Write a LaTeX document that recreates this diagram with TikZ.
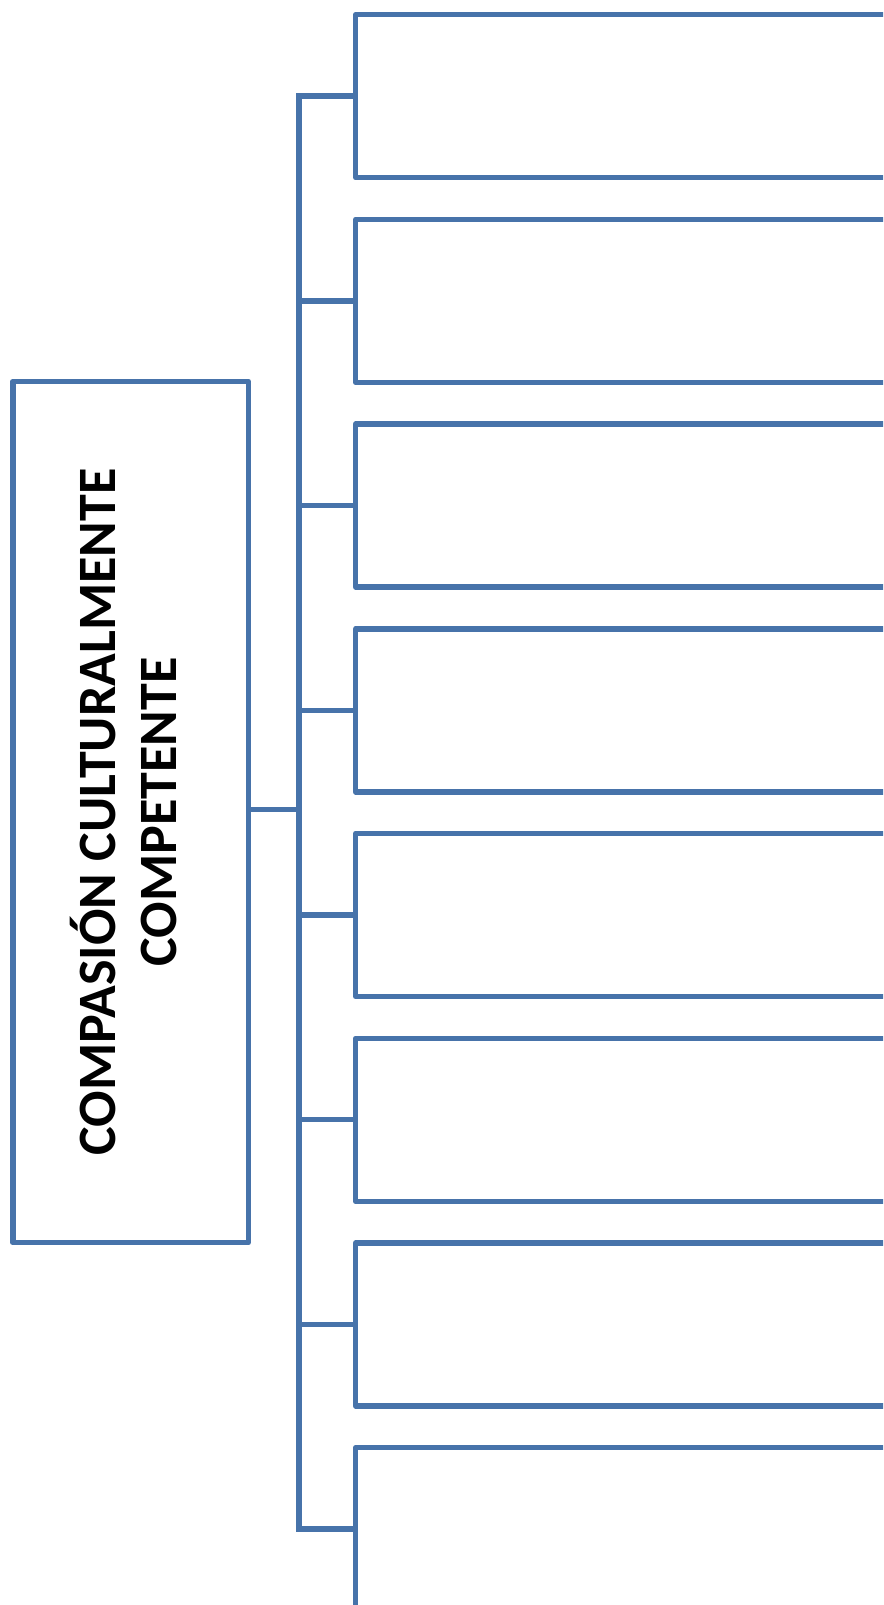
\documentclass[tikz,border=0pt]{standalone}
\usepackage{fontspec}
\setmainfont{Carlito}
\definecolor{edge}{RGB}{71,115,170}
\tikzset{
  frame/.style={draw=edge, line width=5.4pt, line join=round, fill=white},
  link/.style={draw=edge, line width=5.4pt, line join=miter}
}
\begin{document}
\begin{tikzpicture}[x=1pt,y=-1pt]
\useasboundingbox (0,0) rectangle (883,1605);
\clip (0,0) rectangle (883,1605);
% main box
\node[frame, minimum width=235.4pt, minimum height=861.4pt, inner sep=0pt, anchor=north west] (main) at (10.2,378.6) {};
\node[rotate=90, align=center, inner sep=0pt, font=\fontsize{54}{61.5}\selectfont\bfseries] (title) at ([xshift=-7pt]main.center) {COMPASIÓN CULTURALMENTE\\COMPETENTE};
% boxes
\foreach \i/\y in {1/12,2/216.7,3/421.4,4/626.1,5/830.8,6/1035.5,7/1240.2,8/1444.9}{
  \node[frame, minimum width=600pt, minimum height=163pt, inner sep=0pt, anchor=north west] (b\i) at (353,\y) {};
}
% trunk
\coordinate (t) at (299,809.4);
\coordinate (ttop) at (299,93);
\coordinate (tbot) at (299,1525.6);
\draw[link] (main.east |- t) -- (t);
\draw[link] (b1.west) -- (ttop |- b1.west) -- (tbot |- b8.west) -- (b8.west);
\foreach \i in {2,...,7}{
  \draw[link] (ttop |- b\i.west) -- (b\i.west);
}
\end{tikzpicture}
\end{document}
